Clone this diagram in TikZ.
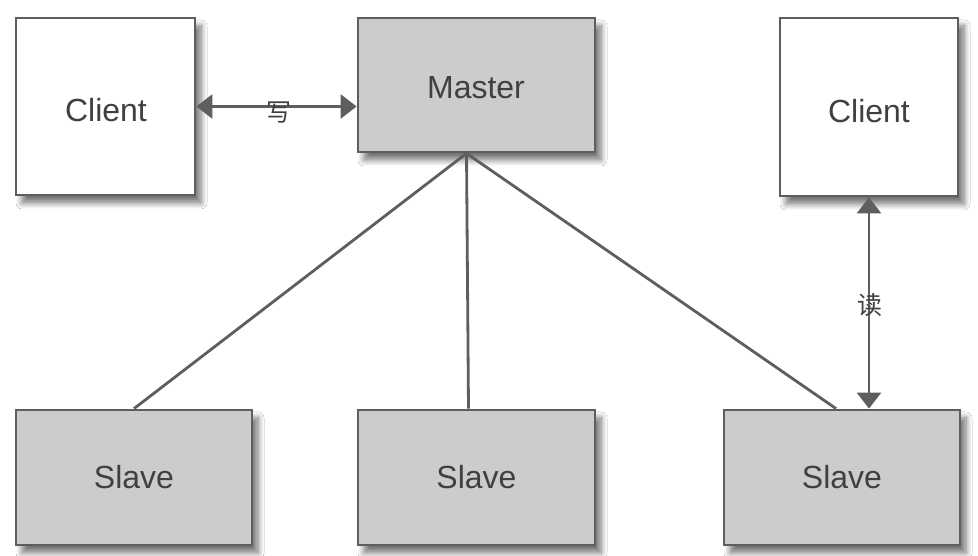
\documentclass[tikz,border=0pt]{standalone}
\usepackage{fontspec}
\setmainfont{Liberation Sans}
\newfontfamily\cjk{Noto Sans CJK SC}
\usetikzlibrary{arrows.meta,shadows.blur,calc}
\definecolor{linegray}{HTML}{5E5E5E}
\definecolor{boxgray}{HTML}{CCCCCC}
\definecolor{textgray}{HTML}{404040}
\tikzset{
  box/.style={draw=linegray, line width=2.8pt, inner sep=0pt, text=textgray,
    font=\fontsize{32}{36}\selectfont,
    blur shadow={shadow xshift=6pt, shadow yshift=-8pt, shadow blur radius=6pt, shadow blur steps=8, shadow opacity=55}},
  whitebox/.style={box, fill=white},
  graybox/.style={box, fill=boxgray},
  boxtext/.style={text=textgray, font=\fontsize{32}{36}\selectfont},
  link/.style={draw=linegray, line width=2.8pt},
  arr/.style={link, {Triangle[length=16pt,width=24pt]}-{Triangle[length=16pt,width=24pt]}},
  lbl/.style={text=textgray, font=\cjk\fontsize{25}{27}\selectfont, inner sep=0pt}
}
\begin{document}
\begin{tikzpicture}[x=1pt,y=1pt]
\fill[white] (0,0) rectangle (978,556);
\useasboundingbox (0,0) rectangle (978,556);
\node[whitebox, minimum width=179pt, minimum height=177pt] (c1) at (105.5,449.5) {};
\node[boxtext] (c1t) at (106,446) {Client};
\node[graybox, minimum width=237pt, minimum height=134pt] (m) at (476.5,471) {};
\node[boxtext] (mt) at (476,468) {Master};
\node[whitebox, minimum width=178pt, minimum height=178pt] (c2) at (869,449) {};
\node[boxtext] (c2t) at (869,445) {Client};
\node[graybox, minimum width=236pt, minimum height=135pt] (s1) at (134,78.5) {Slave};
\node[graybox, minimum width=237pt, minimum height=135pt] (s2) at (476.5,78.5) {Slave};
\node[graybox, minimum width=236pt, minimum height=135pt] (s3) at (842,78.5) {Slave};
\coordinate (mb) at ($(m.south)+(-10,0)$);
\draw[link] (mb) -- (s1.north);
\draw[link] (mb) -- ($(s2.north)+(-8,0)$);
\draw[link] (mb) -- ($(s3.north)+(-6,0)$);
\draw[arr] ($(c1.east)+(0,0)$) -- (c1.east -| m.west);
\draw[arr] (c2.south) -- (c2.south |- s3.north);
\node[lbl] (w) at (279,443) {写};
\node[lbl] (r) at (870,251) {读};
\end{tikzpicture}
\end{document}
